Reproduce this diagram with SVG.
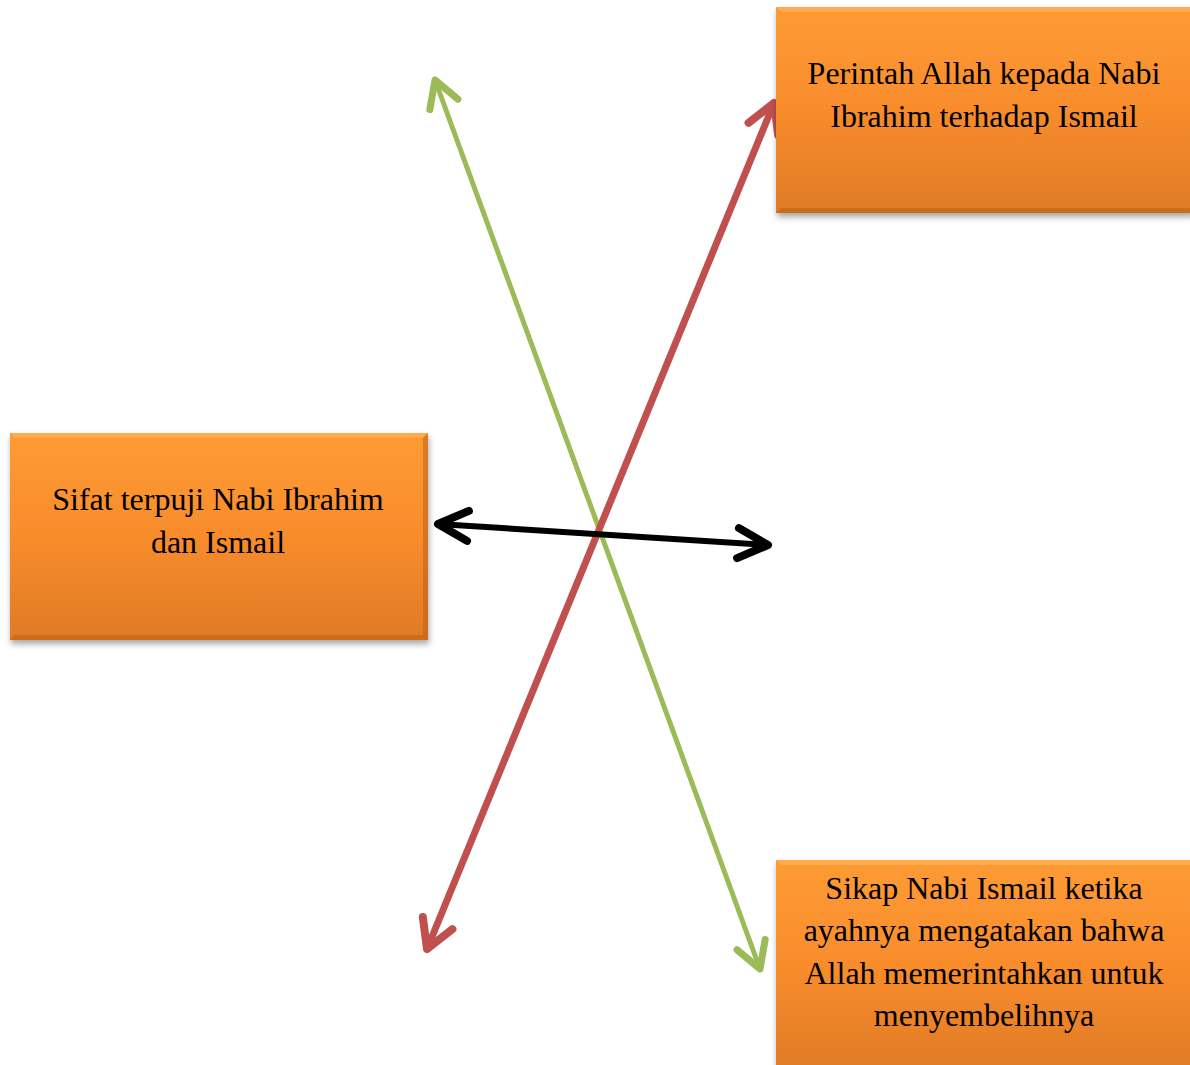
<svg xmlns="http://www.w3.org/2000/svg" width="1190" height="1065" viewBox="0 0 1190 1065">
<style>
.box{fill:url(#og);filter:url(#sh)}
.bt{fill:#ffb866;opacity:0.55}
.bb{fill:#b85c14;opacity:0.5}
.lbl{font-family:"Liberation Serif","Times New Roman",serif;font-size:32px;fill:#000;text-anchor:middle}
.cn{fill:none}
</style>
<defs>
<linearGradient id="og" x1="0" y1="0" x2="0" y2="1">
<stop offset="0" stop-color="#fe9b33"/>
<stop offset="0.5" stop-color="#f88c2c"/>
<stop offset="1" stop-color="#df7a26"/>
</linearGradient>
<filter id="sh" x="-5%" y="-5%" width="115%" height="120%">
<feGaussianBlur in="SourceAlpha" stdDeviation="3"/>
<feOffset dx="1" dy="4" result="b"/>
<feComponentTransfer><feFuncA type="linear" slope="0.35"/></feComponentTransfer>
<feMerge><feMergeNode/><feMergeNode in="SourceGraphic"/></feMerge>
</filter>
<marker id="mg" markerUnits="userSpaceOnUse" viewBox="-40 -25 50 50" markerWidth="50" markerHeight="50" refX="0" refY="0" orient="auto-start-reverse" overflow="visible">
<path d="M-26,-15 L0,0 L-26,15" fill="none" stroke="#9bbb59" stroke-width="7" stroke-linecap="round" stroke-linejoin="round"/>
</marker>
<marker id="mr" markerUnits="userSpaceOnUse" viewBox="-40 -25 50 50" markerWidth="50" markerHeight="50" refX="0" refY="0" orient="auto-start-reverse" overflow="visible">
<path d="M-28,-16 L0,0 L-28,16" fill="none" stroke="#c0504d" stroke-width="8" stroke-linecap="round" stroke-linejoin="round"/>
</marker>
<marker id="mk" markerUnits="userSpaceOnUse" viewBox="-40 -25 50 50" markerWidth="50" markerHeight="50" refX="0" refY="0" orient="auto-start-reverse" overflow="visible">
<path d="M-30,-15 L0,0 L-30,15" fill="none" stroke="#000" stroke-width="8" stroke-linecap="round" stroke-linejoin="round"/>
</marker>
</defs>
<rect width="1190" height="1065" fill="#fff"/>
<g id="connectors">
<line class="cn" x1="435" y1="80" x2="760" y2="969" stroke="#9bbb59" stroke-width="5" marker-start="url(#mg)" marker-end="url(#mg)"/>
<line class="cn" x1="774" y1="103" x2="427" y2="949" stroke="#c0504d" stroke-width="7" marker-start="url(#mr)" marker-end="url(#mr)"/>
<line class="cn" x1="438" y1="524" x2="768" y2="545" stroke="#000" stroke-width="6" marker-start="url(#mk)" marker-end="url(#mk)"/>
</g>
<g id="node-perintah">
<rect class="box" x="776" y="7" width="418" height="206"/>
<polygon class="bt" points="776,7 1194,7 1190,12 781,12"/>
<polygon class="bb" points="776,213 1194,213 1190,208 781,208"/>
<text class="lbl" x="984" y="84">Perintah Allah kepada Nabi</text>
<text class="lbl" x="984" y="127">Ibrahim terhadap Ismail</text>
</g>
<g id="node-sifat">
<rect class="box" x="10" y="433" width="418" height="207"/>
<polygon class="bt" points="10,433 428,433 423,438 15,438"/>
<polygon class="bb" points="10,640 428,640 423,635 15,635"/>
<polygon class="bb" points="428,433 428,640 423,635 423,438"/>
<text class="lbl" x="218" y="510">Sifat terpuji Nabi Ibrahim</text>
<text class="lbl" x="218" y="553">dan Ismail</text>
</g>
<g id="node-sikap">
<rect class="box" x="776" y="860" width="418" height="215"/>
<polygon class="bt" points="776,860 1194,860 1190,865 781,865"/>
<text class="lbl" x="984" y="899">Sikap Nabi Ismail ketika</text>
<text class="lbl" x="984" y="941">ayahnya mengatakan bahwa</text>
<text class="lbl" x="984" y="984">Allah memerintahkan untuk</text>
<text class="lbl" x="984" y="1026">menyembelihnya</text>
</g>
</svg>
